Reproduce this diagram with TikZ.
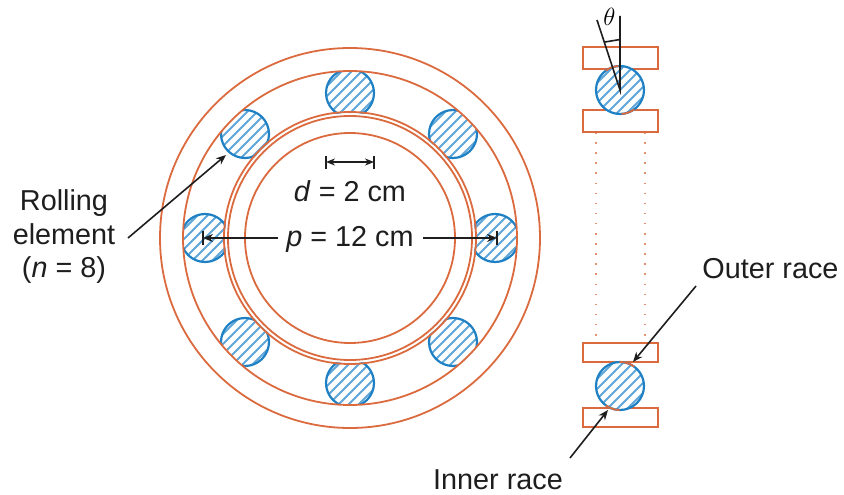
\documentclass[tikz,border=0pt]{standalone}
\usepackage{fontspec}
\setmainfont{Liberation Sans}
\usetikzlibrary{arrows.meta}
\definecolor{racec}{HTML}{DB6A3E}
\definecolor{ballc}{HTML}{1F80C4}
\definecolor{hatchc}{HTML}{5FA6DA}
\definecolor{inkc}{HTML}{1E1E1E}
\tikzset{
  race/.style={draw=racec,line width=1.8pt},
  ballnode/.style={circle,draw=ballc,line width=2.2pt,minimum size=48pt,inner sep=0pt,outer sep=0pt,fill=none},
  lab/.style={font=\fontsize{28.8}{31}\selectfont,text=inkc,inner sep=0pt},
  lead/.style={draw=inkc,line width=1.6pt,-{Stealth[length=10pt,width=8pt]}},
  dimtick/.style={draw=inkc,line width=1.6pt},
  dots/.style={draw=racec!75,line width=1.5pt,dash pattern=on 1.5pt off 8.6pt},
}
\newcommand{\hatchball}[3]{% name, x, y
  \begin{scope}
    \clip (#2,#3) circle (24);
    \fill[white] (#2,#3) circle (24);
    \foreach \k in {-5,...,5}
      \draw[hatchc,line width=1.8pt] (#2-30+\k*10,#3+30) -- (#2+30+\k*10,#3-30);
  \end{scope}
  \node[ballnode] (#1) at (#2,#3) {};
}
\newcommand{\contactarc}[4]{% x, y, from angle, to angle
  \draw[race,line cap=round] plot[domain=#3:#4,samples=8] ({#1+24*cos(\x)},{#2-24*sin(\x)});
}
\begin{document}
\begin{tikzpicture}[x=1pt,y=-1pt]
\useasboundingbox (0,0) rectangle (844,495);
% balls, cut by the races
\begin{scope}[even odd rule]
  \clip (350,238) circle (167) (350,238) circle (125);
  \hatchball{b1}{350}{93}
  \hatchball{b2}{453}{134}
  \hatchball{b3}{495}{238}
  \hatchball{b4}{453}{342}
  \hatchball{b5}{350}{383}
  \hatchball{b6}{245}{342}
  \hatchball{b7}{205}{238}
  \hatchball{b8}{245}{134}
\end{scope}
% rings
\node[race,circle,minimum size=380pt,inner sep=0pt] (ringA) at (350,238) {};
\node[race,circle,minimum size=334pt,inner sep=0pt] (ringB) at (350,238) {};
\node[race,circle,minimum size=252pt,inner sep=0pt] (ringC) at (350,238) {};
\node[race,circle,minimum size=244pt,inner sep=0pt] (ringD) at (350,238) {};
\node[race,circle,minimum size=210pt,inner sep=0pt] (ringE) at (350,238) {};
% dimension labels
\node[lab] (dtxt) at (350,191) {\textit{d} = 2 cm};
\node[lab] (ptxt) at (350,239) {\textit{p} = 12 cm};
\coordinate (dL) at (326,162);
\coordinate (dR) at (374,162);
\draw[dimtick] (326,156) -- (326,169);
\draw[dimtick] (374,156) -- (374,169);
\draw[lead,{Stealth[length=9pt,width=7pt]}-{Stealth[length=9pt,width=7pt]}] (dL) -- (dR);
\coordinate (pL) at (203,238);
\coordinate (pR) at (497,238);
\draw[dimtick] (203,231) -- (203,245);
\draw[dimtick] (497,231) -- (497,245);
\draw[lead] (278,238) -- (pL);
\draw[lead] (423,238) -- (pR);
% rolling element
\node[lab,align=center] (rolltxt) at (64,237) {Rolling\\[2.5pt]element\\[2.5pt](\textit{n} = 8)};
\coordinate (rollS) at (128,238);
\coordinate (rollT) at (226,155);
\draw[lead] (rollS) -- (rollT);
% side view
\draw[dots] (596,132) -- (596,343);
\draw[dots] (645,132) -- (645,343);
\node[race,rectangle,minimum width=75pt,minimum height=21.5pt,inner sep=0pt] (r1) at (620.5,58) {};
\node[race,rectangle,minimum width=75pt,minimum height=21.5pt,inner sep=0pt] (r2) at (620.5,121) {};
\node[race,rectangle,minimum width=75pt,minimum height=19pt,inner sep=0pt] (r3) at (620.5,352.5) {};
\node[race,rectangle,minimum width=75pt,minimum height=19pt,inner sep=0pt] (r4) at (620.5,417.5) {};
\hatchball{b9}{620}{90}
\hatchball{b10}{620}{386}
\contactarc{620}{90}{95}{125}
\contactarc{620}{90}{-85}{-55}
\contactarc{620}{386}{55}{90}
\contactarc{620}{386}{-125}{-92}
% theta
\coordinate (thO) at (620,90);
\coordinate (thA) at (620,16);
\coordinate (thB) at (597,20);
\draw[dimtick] (thA) -- (thO) -- (thB);
\draw[dimtick] (605,42) -- (620,39.5);
\node[font=\fontsize{29}{31}\selectfont,inner sep=0pt] (thetatxt) at (609.5,17) {$\theta$};
% race labels
\node[lab] (outertxt) at (770.5,269) {Outer race};
\coordinate (outS) at (696,286);
\coordinate (outT) at (633,362);
\draw[lead] (outS) -- (outT);
\node[lab] (innertxt) at (498,480) {Inner race};
\coordinate (inS) at (570,458);
\coordinate (inT) at (608,410);
\draw[lead] (inS) -- (inT);
\end{tikzpicture}
\end{document}
